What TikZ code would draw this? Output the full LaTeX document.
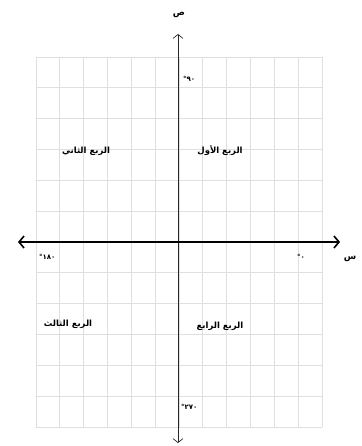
\documentclass[tikz,border=0pt]{standalone}
\usepackage{fontspec}
\usetikzlibrary{arrows.meta, positioning}
\TeXXeTstate=1
\newfontfamily\arabicfont[Script=Arabic]{DejaVu Sans}
\newfontfamily\digitfont{DejaVu Sans}

\begin{document}
\begin{tikzpicture}[x=1pt, y=-1pt,
    gridline/.style={gray!25, line width=0.9pt},
    yaxis/.style={black!85, line width=0.7pt, {Straight Barb[length=4pt,width=10pt]}-{Straight Barb[length=4pt,width=10pt]}},
    xaxis/.style={black, line width=1.6pt, {Straight Barb[length=5pt,width=12pt]}-{Straight Barb[length=5pt,width=12pt]}},
    quad/.style={font=\arabicfont\bfseries\fontsize{8.5}{10}\selectfont},
    deg/.style={font=\digitfont\bfseries\fontsize{7}{8}\selectfont, anchor=west, inner sep=0pt},
    axlabel/.style={font=\arabicfont\bfseries\fontsize{9}{10}\selectfont}]
    \useasboundingbox (0,0) rectangle (361,446);

    % Grid
    \foreach \i in {0,...,12} {
        \draw[gridline] ({36+23.83*\i},57) -- ({36+23.83*\i},427);
        \draw[gridline] (36,{57+30.83*\i}) -- (322,{57+30.83*\i});
    }

    % Axes
    \coordinate (xl) at (18,242);
    \coordinate (xr) at (340,242);
    \coordinate (yt) at (178,34);
    \coordinate (yb) at (178,443);
    \draw[yaxis] (yb) -- (yt);
    \draw[xaxis] (xl) -- (xr);
    \node[axlabel] (ylab) at (179,15) {\beginR ص\endR};
    \node[axlabel] (xlab) at (350,259) {\beginR س\endR};

    % Quadrants
    \node[quad] (q1) at (220,151) {\beginR الربع الأول\endR};
    \node[quad] (q2) at (86,151) {\beginR الربع الثاني\endR};
    \node[quad] (q3) at (68,324) {\beginR الربع الثالث\endR};
    \node[quad] (q4) at (220,326) {\beginR الربع الرابع\endR};

    % Angles
    \node[deg] (a90) at (183,79) {°٩٠};
    \node[deg] (a180) at (39,257) {°١٨٠};
    \node[deg] (a0) at (297,257) {°٠};
    \node[deg] (a270) at (181,407) {°٢٧٠};
\end{tikzpicture}
\end{document}
